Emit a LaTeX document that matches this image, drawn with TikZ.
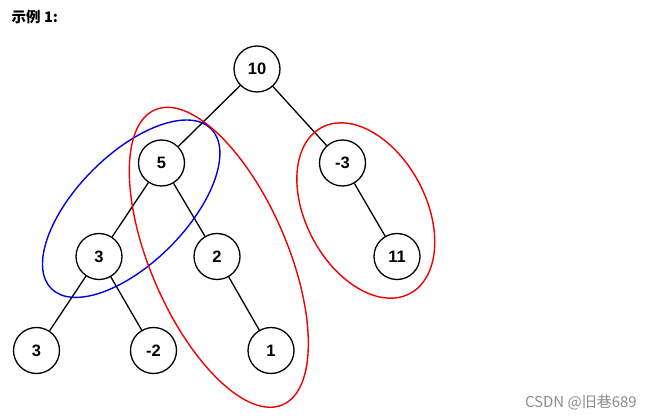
\documentclass[tikz,border=0pt]{standalone}
\usepackage{fontspec}
\setmainfont{Liberation Sans}
\newfontfamily\cjk{Noto Sans CJK SC}
\begin{document}
\begin{tikzpicture}[x=1pt,y=-1pt,
  tnode/.style={circle,draw=black,line width=1.3pt,fill=white,minimum size=46pt,inner sep=0pt,
    font=\fontsize{16.5}{18}\selectfont\bfseries},
  edge/.style={draw=black,line width=1.3pt},
  ring/.style={line width=1.4pt}]
\useasboundingbox (0,0) rectangle (653,419);
\node[anchor=west,inner sep=0pt,font=\cjk\bfseries\fontsize{14.5}{16}\selectfont] (title) at (11.5,17) {示例 1:};
\node[anchor=east,inner sep=0pt,text=black!45,font=\cjk\fontsize{15}{17}\selectfont] (wm) at (637,402) {CSDN @旧巷689};
\node[tnode] (n10) at (257,69) {10};
\node[tnode] (n5) at (161.5,163) {5};
\node[tnode] (nm3) at (342.5,163) {-3};
\node[tnode] (n3a) at (99,256.5) {3};
\node[tnode] (n2) at (217,256.5) {2};
\node[tnode] (n11) at (397,256.5) {11};
\node[tnode] (n3b) at (36.5,350.5) {3};
\node[tnode] (nm2) at (153.5,350.5) {-2};
\node[tnode] (n1) at (271,350.5) {1};
\draw[edge] (n10) -- (n5);
\draw[edge] (n10) -- (nm3);
\draw[edge] (n5) -- (n3a);
\draw[edge] (n5) -- (n2);
\draw[edge] (nm3) -- (n11);
\draw[edge] (n3a) -- (n3b);
\draw[edge] (n3a) -- (nm2);
\draw[edge] (n2) -- (n1);
\coordinate (cb) at (131.2,208.7);
\coordinate (cr1) at (218.8,257.3);
\coordinate (cr2) at (365.8,210.5);
\draw[ring,draw=blue!90!black,rotate around={45:(cb)}] (cb) ellipse [x radius=113pt,y radius=54.4pt];
\draw[ring,draw=red!95!black,rotate around={-66.6:(cr1)}] (cr1) ellipse [x radius=160.7pt,y radius=68.4pt];
\draw[ring,draw=red!95!black,rotate around={-62:(cr2)}] (cr2) ellipse [x radius=94pt,y radius=60pt];
\end{tikzpicture}
\end{document}
